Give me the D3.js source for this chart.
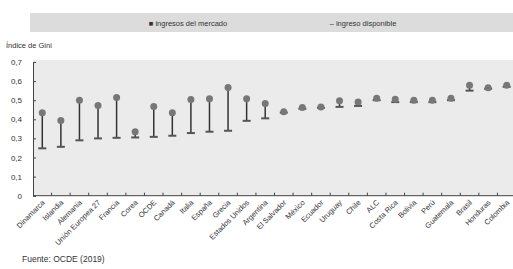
<!DOCTYPE html>
<html>
<head>
<meta charset="utf-8">
<script src="https://cdn.jsdelivr.net/npm/d3@7"></script>
<style>
  body { margin: 0; background: #fff; }
  svg { display: block; font-family: "Liberation Sans", Arial, sans-serif; }
</style>
</head>
<body>
<svg id="chart" width="513" height="269"></svg>
<script>
// datos
const countries = ["Dinamarca", "Islandia", "Alemania", "Unión Europea 27", "Francia", "Corea", "OCDE",
  "Canadá", "Italia", "España", "Grecia", "Estados Unidos", "Argentina", "El Salvador", "México",
  "Ecuador", "Uruguay", "Chile", "ALC", "Costa Rica", "Bolivia", "Perú", "Guatemala", "Brasil",
  "Honduras", "Colombia"];
const mercado = [0.434, 0.394, 0.50, 0.472, 0.514, 0.335, 0.467, 0.434, 0.504, 0.507, 0.567, 0.507,
  0.483, 0.44, 0.462, 0.465, 0.497, 0.49, 0.51, 0.505, 0.50, 0.50, 0.51, 0.578, 0.565, 0.578];
const disponible = [0.248, 0.256, 0.29, 0.30, 0.303, 0.305, 0.308, 0.314, 0.328, 0.335, 0.34, 0.392,
  0.405, 0.435, 0.455, 0.46, 0.465, 0.47, 0.50, 0.49, 0.49, 0.49, 0.50, 0.55, 0.56, 0.57];
const yTicks = [0, 0.1, 0.2, 0.3, 0.4, 0.5, 0.6, 0.7];

const svg = d3.select("#chart");

const x = d3.scaleBand().domain(countries).range([33, 516]);
const y = d3.scaleLinear().domain([0, 0.7]).range([195.7, 62]);

// leyenda
svg.append("rect")
  .attr("x", 30).attr("y", 13).attr("width", 483).attr("height", 19)
  .attr("fill", "#dcdcdc");
svg.append("text").attr("x", 188).attr("y", 25.5).attr("text-anchor", "middle")
  .attr("font-size", 7.5).attr("fill", "#333").text("■ ingresos del mercado");
svg.append("text").attr("x", 363).attr("y", 25.5).attr("text-anchor", "middle")
  .attr("font-size", 7.5).attr("fill", "#333").text("– ingreso disponible");

svg.append("text").attr("x", 6).attr("y", 48).attr("font-size", 7.5)
  .attr("fill", "#333").text("Índice de Gini");

// fondo del area
svg.append("rect")
  .attr("x", 33).attr("y", 60).attr("width", 480).attr("height", 136)
  .attr("fill", "#ebebeb");

// ejes
const yAxis = svg.append("g").attr("transform", "translate(33,0)")
  .call(d3.axisRight(y).tickValues(yTicks).tickSize(3).tickFormat(""));
yAxis.select(".domain").attr("stroke", "#444");
yAxis.selectAll(".tick line").attr("stroke", "#444");

svg.append("g").selectAll("text").data(yTicks).enter().append("text")
  .attr("x", 22).attr("y", d => y(d) + 3)
  .attr("text-anchor", "end").attr("font-size", 8).attr("fill", "#333")
  .text(d => d === 0 ? "0" : d3.format(".1f")(d).replace(".", ","));

const xAxis = svg.append("g").attr("transform", "translate(0,195.7)");
xAxis.append("line").attr("x1", 33).attr("x2", 513).attr("stroke", "#444");
xAxis.selectAll("line.tk").data(countries.slice(1)).enter().append("line")
  .attr("class", "tk")
  .attr("x1", d => x(d)).attr("x2", d => x(d))
  .attr("y1", 0).attr("y2", -3).attr("stroke", "#444");

svg.append("g").selectAll("text").data(countries).enter().append("text")
  .attr("transform", d => `translate(${x(d) + x.bandwidth() / 2 + 3},203) rotate(-45)`)
  .attr("text-anchor", "end").attr("font-size", 7.5).attr("fill", "#333")
  .text(d => d);

// rangos
const g = svg.append("g");
countries.forEach((c, i) => {
  const cx = x(c) + x.bandwidth() / 2;
  g.append("line")
    .attr("x1", cx).attr("x2", cx)
    .attr("y1", y(mercado[i])).attr("y2", y(disponible[i]))
    .attr("stroke", "#333").attr("stroke-width", 1.5);
  g.append("line")
    .attr("x1", cx - 4).attr("x2", cx + 4)
    .attr("y1", y(disponible[i])).attr("y2", y(disponible[i]))
    .attr("stroke", "#555").attr("stroke-width", 2);
  g.append("circle")
    .attr("cx", cx).attr("cy", y(mercado[i])).attr("r", 3.5)
    .attr("fill", "#777");
});

svg.append("text").attr("x", 22).attr("y", 262).attr("font-size", 8.5)
  .attr("fill", "#333").text("Fuente: OCDE (2019)");
</script>
</body>
</html>
